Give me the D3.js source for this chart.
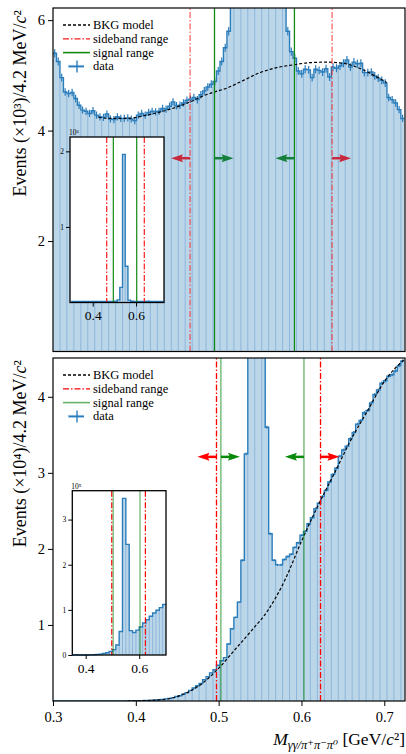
<!DOCTYPE html>
<html>
<head>
<meta charset="utf-8">
<script src="https://cdn.jsdelivr.net/npm/d3@7"></script>
<style>
  body { margin: 0; background: #fff; }
  svg text { font-family: "Liberation Serif", "DejaVu Serif", serif; fill: #000; }
</style>
</head>
<body>
<div id="chart"></div>
<script>
// 4.2 MeV bins starting at 0.3 GeV
const binStart = 0.3;
const binWidth = 0.0042;

// upper panel, events x10^3 per bin
const topCounts = [
  5.40, 5.25, 4.96, 4.70, 4.67, 4.69, 4.58, 4.46, 4.37, 4.35,
  4.31, 4.36, 4.28, 4.25, 4.24, 4.30, 4.21, 4.20, 4.25, 4.22,
  4.22, 4.23, 4.21, 4.18, 4.28, 4.31, 4.28, 4.33, 4.35, 4.34,
  4.35, 4.40, 4.39, 4.44, 4.52, 4.45, 4.46, 4.50, 4.55, 4.57,
  4.60, 4.56, 4.65, 4.72, 4.79, 4.84, 4.89, 5.08, 5.25, 5.50,
  5.80, 6.6, 7.5, 9.0, 11.0, 15.0, 22.0, 30.0, 35.0, 32.0,
  24.0, 16.0, 11.0, 8.5, 7.2, 6.6, 6.3, 5.80, 5.43, 5.31,
  5.08, 5.03, 5.11, 5.10, 4.96, 5.11, 5.09, 5.06, 5.12, 4.97,
  5.15, 5.13, 5.17, 5.22, 5.28, 5.15, 5.24, 5.21, 5.22, 5.05,
  5.05, 5.06, 4.99, 4.95, 4.91, 4.86, 4.60, 4.56, 4.50, 4.38,
  4.22
];

// lower panel, events x10^4 per bin
const bottomCounts = [
  0, 0, 0, 0, 0, 0, 0, 0, 0, 0,
  0, 0, 0, 0, 0, 0, 0.001, 0.001, 0.001, 0.001,
  0.001, 0.001, 0.002, 0.002, 0.003, 0.004, 0.006, 0.008, 0.010, 0.013,
  0.017, 0.022, 0.028, 0.035, 0.045, 0.06, 0.07, 0.09, 0.11, 0.14,
  0.17, 0.20, 0.23, 0.28, 0.32, 0.37, 0.41, 0.47, 0.53, 0.57,
  0.75, 0.95, 1.10, 1.30, 1.85, 3.25, 6.0, 9.5, 11.8, 10.5,
  6.5, 3.60, 2.20, 1.85, 1.79, 1.79, 1.86, 1.90, 1.93, 2.02,
  2.08, 2.18, 2.23, 2.33, 2.41, 2.53, 2.60, 2.69, 2.77, 2.88,
  2.98, 3.06, 3.22, 3.30, 3.35, 3.45, 3.53, 3.64, 3.69, 3.79,
  3.82, 3.92, 4.03, 4.09, 4.18, 4.21, 4.27, 4.29, 4.34, 4.41,
  4.47
];

// background model samples
const topBkgX = [0.355, 0.37, 0.39, 0.41, 0.43, 0.45, 0.4655, 0.48, 0.495, 0.51, 0.53, 0.55, 0.57, 0.59, 0.61, 0.63, 0.65, 0.67, 0.69, 0.703];
const topBkgY = [4.24, 4.22, 4.22, 4.27, 4.34, 4.43, 4.52, 4.62, 4.70, 4.77, 4.91, 5.05, 5.14, 5.19, 5.23, 5.24, 5.22, 5.13, 4.98, 4.87];
const bottomBkgX = [0.39, 0.40, 0.42, 0.44, 0.46, 0.48, 0.50, 0.52, 0.54, 0.56, 0.58, 0.60, 0.62, 0.64, 0.66, 0.68, 0.70, 0.725];
const bottomBkgY = [0, 0.002, 0.01, 0.03, 0.10, 0.23, 0.43, 0.68, 0.93, 1.20, 1.59, 2.10, 2.57, 3.00, 3.44, 3.82, 4.20, 4.50];

// range boundaries (GeV)
const topSideband = [0.4655, 0.637];
const topSignal = [0.495, 0.5915];
const bottomSideband = [0.4974, 0.623];
const bottomSignal = [0.5027, 0.603];

// insets, 12.5 MeV bins
const insetBinWidth = 0.0125;
const topInsetStart = 0.3;
const topInsetCounts = [
  0.0155, 0.0142, 0.0138, 0.0131, 0.0128, 0.0127, 0.0126, 0.0127, 0.0129, 0.0130,
  0.0131, 0.0133, 0.0135, 0.0137, 0.0140, 0.0146, 0.016, 0.035, 0.20, 1.96,
  0.48, 0.032, 0.017, 0.0155, 0.0152, 0.0153, 0.0154, 0.0155, 0.0156, 0.0155,
  0.0152, 0.0149, 0.0140, 0.0128
];
const topInsetSideband = [0.4645, 0.638];
const topInsetSignal = [0.495, 0.603];
const bottomInsetStart = 0.35;
const bottomInsetCounts = [
  0, 0, 0, 0.0005, 0.001, 0.003, 0.006, 0.012, 0.02, 0.035,
  0.05, 0.08, 0.12, 0.22, 0.52, 3.47, 2.45, 0.54, 0.50, 0.55,
  0.62, 0.71, 0.78, 0.86, 0.93, 0.99, 1.05, 1.12
];

// ticks and labels
const xTicks = [0.3, 0.4, 0.5, 0.6, 0.7];
const topYTicks = [2, 4, 6];
const bottomYTicks = [1, 2, 3, 4];
const insetXTicks = [0.4, 0.6];
const topInsetYTicks = [1, 2];
const bottomInsetYTicks = [0, 1, 2, 3];
const legendLabels = ["BKG model", "sideband range", "signal range", "data"];

const W = 406, H = 754;
const fillColor = "#bcd6e9", edgeColor = "#8db7da", lineColor = "#2a7dbb";

const svg = d3.select("#chart").append("svg")
  .attr("width", W).attr("height", H);

const x = d3.scaleLinear().domain([0.3, 0.725]).range([53, 405]);

function stepPoints(start, width, counts) {
  const pts = counts.map((v, i) => [start + i * width, v]);
  pts.push([start + counts.length * width, counts[counts.length - 1]]);
  return pts;
}

// filled step histogram with light bin edges
function drawHist(g, xs, ys, start, width, counts, edgeEvery, lw) {
  const pts = stepPoints(start, width, counts);
  g.append("path")
    .attr("d", d3.area().curve(d3.curveStepAfter)
      .x(d => xs(d[0])).y0(ys(0)).y1(d => ys(d[1]))(pts))
    .attr("fill", fillColor);
  const edges = d3.range(edgeEvery, counts.length, edgeEvery);
  g.append("g").selectAll("line")
    .data(edges)
    .join("line")
    .attr("x1", k => xs(start + k * width)).attr("x2", k => xs(start + k * width))
    .attr("y1", ys(0))
    .attr("y2", k => ys(Math.min(counts[k - 1], counts[k])))
    .attr("stroke", edgeColor).attr("stroke-width", 1);
  g.append("path")
    .attr("d", d3.line().curve(d3.curveStepAfter)
      .x(d => xs(d[0])).y(d => ys(d[1]))(pts))
    .attr("fill", "none").attr("stroke", lineColor).attr("stroke-width", lw);
}

function styleAxis(sel, size) {
  sel.select(".domain").remove();
  sel.attr("font-family", null).attr("font-size", null);
  sel.selectAll(".tick line").attr("stroke", "#000");
  sel.selectAll(".tick text").attr("font-size", size).attr("fill", "#000");
}

function vline(g, xv, ys, color, opacity, dash) {
  g.append("line")
    .attr("x1", x(xv)).attr("x2", x(xv))
    .attr("y1", ys.range()[0]).attr("y2", ys.range()[1])
    .attr("stroke", color).attr("stroke-opacity", opacity)
    .attr("stroke-width", 1.3)
    .attr("stroke-dasharray", dash);
}

function arrow(g, x0, yv, dir, color) {
  g.append("line")
    .attr("x1", x0).attr("x2", x0 + dir * 10)
    .attr("y1", yv).attr("y2", yv)
    .attr("stroke", color).attr("stroke-width", 2.5);
  g.append("path")
    .attr("d", d3.line()([[x0 + dir * 7, yv - 4], [x0 + dir * 19, yv], [x0 + dir * 7, yv + 4], [x0 + dir * 9, yv]]) + "Z")
    .attr("fill", color);
}

const dashDot = "6,2,1.5,2";

class Panel {
  constructor(opts) {
    Object.assign(this, opts);
    this.y = d3.scaleLinear().domain([0, this.yMax]).range([this.bottom, this.top]);
    this.g = svg.append("g");
    this.draw();
  }

  draw() {
    const id = "clip" + this.name;
    svg.append("clipPath").attr("id", id).append("rect")
      .attr("x", 53).attr("y", this.top).attr("width", 352).attr("height", this.bottom - this.top);
    this.plot = this.g.append("g").attr("clip-path", "url(#" + id + ")");

    drawHist(this.plot, x, this.y, binStart, binWidth, this.counts, 2, 1.4);
    this.addErrors();
    this.addBkg();
    this.addRanges();

    this.g.append("rect")
      .attr("x", 53).attr("y", this.top)
      .attr("width", 352).attr("height", this.bottom - this.top)
      .attr("fill", "none").attr("stroke", "#000").attr("stroke-width", 1.2);

    this.addAxes();
    this.addLegend();
    this.addTitle();
  }

  addErrors() {
    const s = this.scaleN;
    this.plot.append("g").selectAll("line")
      .data(this.counts)
      .join("line")
      .attr("x1", (d, i) => x(binStart + (i + 0.5) * binWidth))
      .attr("x2", (d, i) => x(binStart + (i + 0.5) * binWidth))
      .attr("y1", d => this.y(d + Math.sqrt(d * s) / s))
      .attr("y2", d => this.y(d - Math.sqrt(d * s) / s))
      .attr("stroke", lineColor).attr("stroke-width", 1.2);
  }

  addBkg() {
    const pts = this.bkgX.map((v, i) => [v, this.bkgY[i]]);
    this.plot.append("path")
      .attr("d", d3.line().curve(d3.curveMonotoneX)
        .x(d => x(d[0])).y(d => this.y(d[1]))(pts))
      .attr("fill", "none").attr("stroke", "#000")
      .attr("stroke-width", 1.2).attr("stroke-dasharray", "3,2");
  }

  addRanges() {
    const c = this.colors;
    this.sideband.forEach(v => vline(this.plot, v, this.y, c.red, c.redOpacity, dashDot));
    this.signal.forEach(v => vline(this.plot, v, this.y, c.green, c.greenOpacity, null));
    const ay = this.y(this.arrowY);
    arrow(this.g, x(this.sideband[0]), ay, -1, c.arrowRed);
    arrow(this.g, x(this.signal[0]), ay, 1, c.arrowGreen);
    arrow(this.g, x(this.signal[1]), ay, -1, c.arrowGreen);
    arrow(this.g, x(this.sideband[1]), ay, 1, c.arrowRed);
  }

  addAxes() {
    const yaxis = d3.axisLeft(this.y).tickValues(this.yTicks)
      .tickFormat(d3.format("d")).tickSize(5).tickPadding(3);
    this.g.append("g").attr("transform", "translate(53,0)")
      .call(yaxis).call(styleAxis, 14.5);
    if (this.showX) {
      const xaxis = d3.axisBottom(x).tickValues(xTicks)
        .tickFormat(d3.format(".1f")).tickSize(5).tickPadding(6);
      this.g.append("g").attr("transform", "translate(0," + this.bottom + ")")
        .call(xaxis).call(styleAxis, 14.5);
    }
  }

  addLegend() {
    const c = this.colors;
    const lg = this.g.append("g");
    const rowY = i => this.top + 17 + i * 13.8;
    const styles = [
      { stroke: "#000", dash: "3,2", op: 1 },
      { stroke: c.red, dash: dashDot, op: c.legendRedOpacity },
      { stroke: c.green, dash: null, op: c.greenOpacity }
    ];
    styles.forEach((s, i) => {
      lg.append("line")
        .attr("x1", 63).attr("x2", 90).attr("y1", rowY(i)).attr("y2", rowY(i))
        .attr("stroke", s.stroke).attr("stroke-opacity", s.op)
        .attr("stroke-width", i == 2 ? 1.6 : 1.3).attr("stroke-dasharray", s.dash);
    });
    const dy = rowY(3);
    lg.append("line").attr("x1", 68).attr("x2", 84).attr("y1", dy).attr("y2", dy)
      .attr("stroke", "#9cc3e3").attr("stroke-width", 3);
    lg.append("line").attr("x1", 69).attr("x2", 84).attr("y1", dy).attr("y2", dy)
      .attr("stroke", lineColor).attr("stroke-width", 1.2);
    lg.append("line").attr("x1", 77).attr("x2", 77).attr("y1", dy - 6).attr("y2", dy + 6)
      .attr("stroke", lineColor).attr("stroke-width", 1.4);
    lg.selectAll("text")
      .data(legendLabels)
      .join("text")
      .attr("x", 93).attr("y", (d, i) => rowY(i) + 4)
      .attr("font-size", 12.5)
      .text(d => d);
  }

  addTitle() {
    const t = this.g.append("text")
      .attr("transform", "translate(26," + (this.top + 2) + ") rotate(-90)")
      .attr("text-anchor", "end").attr("font-size", 18);
    t.append("tspan").text("Events (×10" + this.exponent + ")/4.2 MeV/");
    t.append("tspan").attr("font-style", "italic").text("c");
    t.append("tspan").text("²");
  }
}

function drawInset(opts) {
  const xs = d3.scaleLinear().domain(opts.xDomain).range([opts.left, opts.right]);
  const ys = d3.scaleLinear().domain([0, opts.yMax]).range([opts.bottom, opts.top]);
  const g = svg.append("g");
  g.append("rect")
    .attr("x", opts.left).attr("y", opts.top)
    .attr("width", opts.right - opts.left).attr("height", opts.bottom - opts.top)
    .attr("fill", "#fff");
  drawHist(g, xs, ys, opts.start, insetBinWidth, opts.counts, 1, 1.4);
  const c = opts.colors;
  opts.sideband.forEach(v => g.append("line")
    .attr("x1", xs(v)).attr("x2", xs(v)).attr("y1", opts.top).attr("y2", opts.bottom)
    .attr("stroke", c.red).attr("stroke-opacity", c.insetRedOpacity)
    .attr("stroke-width", 1.2).attr("stroke-dasharray", dashDot));
  opts.signal.forEach(v => g.append("line")
    .attr("x1", xs(v)).attr("x2", xs(v)).attr("y1", opts.top).attr("y2", opts.bottom)
    .attr("stroke", c.green).attr("stroke-opacity", c.greenOpacity).attr("stroke-width", 1.2));
  g.append("rect")
    .attr("x", opts.left).attr("y", opts.top)
    .attr("width", opts.right - opts.left).attr("height", opts.bottom - opts.top)
    .attr("fill", "none").attr("stroke", "#000").attr("stroke-width", 1.3);

  g.append("g").attr("transform", "translate(" + opts.left + ",0)")
    .call(d3.axisLeft(ys).tickValues(opts.yTicks).tickFormat(d3.format("d")).tickSize(4).tickPadding(2))
    .call(styleAxis, 7.5);
  g.append("g").attr("transform", "translate(0," + opts.bottom + ")")
    .call(d3.axisBottom(xs).tickValues(insetXTicks).tickFormat(d3.format(".1f")).tickSize(4).tickPadding(4))
    .call(styleAxis, 13.5);
  g.append("text")
    .attr("x", opts.left - 1).attr("y", opts.top - 2)
    .attr("font-size", 7.5)
    .text("10" + opts.exponent);
}

const topColors = {
  red: "#ff0000", redOpacity: 0.6, legendRedOpacity: 0.9, insetRedOpacity: 0.9,
  green: "#138a13", greenOpacity: 1,
  arrowRed: "#c8283c", arrowGreen: "#14803c"
};
const bottomColors = {
  red: "#ff0000", redOpacity: 1, legendRedOpacity: 1, insetRedOpacity: 1,
  green: "#008000", greenOpacity: 0.6,
  arrowRed: "#ff0000", arrowGreen: "#0a8a0a"
};

new Panel({
  name: "top", top: 8, bottom: 351.5, yMax: 6.22, counts: topCounts, scaleN: 1e3,
  bkgX: topBkgX, bkgY: topBkgY, sideband: topSideband, signal: topSignal,
  arrowY: 3.5, yTicks: topYTicks, showX: false, exponent: "³", colors: topColors
});
drawInset({
  left: 70, right: 164, top: 137, bottom: 302.5, xDomain: [0.295, 0.729], yMax: 2.19,
  start: topInsetStart, counts: topInsetCounts, sideband: topInsetSideband, signal: topInsetSignal,
  yTicks: topInsetYTicks, exponent: "⁶", colors: topColors
});

new Panel({
  name: "bottom", top: 358, bottom: 701, yMax: 4.51, counts: bottomCounts, scaleN: 1e4,
  bkgX: bottomBkgX, bkgY: bottomBkgY, sideband: bottomSideband, signal: bottomSignal,
  arrowY: 3.21, yTicks: bottomYTicks, showX: true, exponent: "⁴", colors: bottomColors
});
drawInset({
  left: 72.3, right: 166, top: 490.7, bottom: 655, xDomain: [0.35, 0.70], yMax: 3.64,
  start: bottomInsetStart, counts: bottomInsetCounts, sideband: bottomSideband, signal: bottomSignal,
  yTicks: bottomInsetYTicks, exponent: "⁵", colors: bottomColors
});

// x axis title, right aligned
const xt = svg.append("text")
  .attr("x", 405).attr("y", 745)
  .attr("text-anchor", "end").attr("font-size", 17.5);
xt.append("tspan").attr("font-style", "italic").text("M");
xt.append("tspan").attr("font-style", "italic").attr("font-size", 12.5).attr("dy", 4).text("γγ/π⁺π⁻π⁰");
xt.append("tspan").attr("dy", -4).text(" [GeV/");
xt.append("tspan").attr("font-style", "italic").text("c");
xt.append("tspan").text("²]");
</script>
</body>
</html>
